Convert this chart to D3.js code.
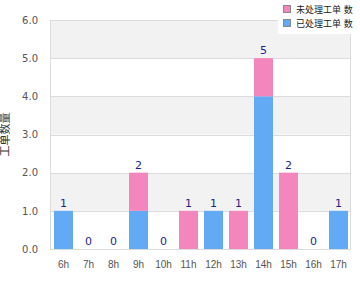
<!DOCTYPE html>
<html>
<head>
<meta charset="utf-8">
<script src="https://cdn.jsdelivr.net/npm/d3@7"></script>
<style>
  body { margin: 0; background: #fff; }
  svg { display: block; font-family: "DejaVu Sans", "Noto Sans CJK SC", sans-serif; }
</style>
</head>
<body>
<div id="chart"></div>
<script>
var hours = ["6h", "7h", "8h", "9h", "10h", "11h", "12h", "13h", "14h", "15h", "16h", "17h"];
var blueValues = [1, 0, 0, 1, 0, 0, 1, 0, 4, 0, 0, 1];
var pinkValues = [0, 0, 0, 1, 0, 1, 0, 1, 1, 2, 0, 0];
var seriesNames = ["已处理工单 数", "未处理工单 数"];
var yTicks = [0, 1, 2, 3, 4, 5, 6];
var yTitle = "工单数量";

var width = 360, height = 300;
var plotLeft = 51, plotRight = 351, plotTop = 20, plotBottom = 249;

var svg = d3.select("#chart").append("svg")
    .attr("width", width)
    .attr("height", height);

var x = d3.scaleBand().domain(hours).range([plotLeft, plotRight]).paddingInner(0.24).paddingOuter(0.12);
var y = d3.scaleLinear().domain([0, 6]).range([plotBottom, plotTop]);

// alternating bands
svg.selectAll(".band")
    .data(yTicks.slice(0, -1))
    .enter().append("rect")
    .attr("x", plotLeft)
    .attr("y", function(d) { return y(d + 1); })
    .attr("width", plotRight - plotLeft)
    .attr("height", function(d) { return y(d) - y(d + 1); })
    .attr("fill", function(d) { return d % 2 == 1 ? "#f2f2f2" : "#fff"; });

svg.selectAll(".grid")
    .data(yTicks)
    .enter().append("line")
    .attr("x1", plotLeft).attr("x2", plotRight)
    .attr("y1", function(d) { return Math.round(y(d)) + 0.5; })
    .attr("y2", function(d) { return Math.round(y(d)) + 0.5; })
    .attr("stroke", "#dcdcdc");

svg.append("line").attr("x1", plotLeft - 0.5).attr("x2", plotLeft - 0.5).attr("y1", plotTop).attr("y2", plotBottom + 1).attr("stroke", "#dcdcdc");
svg.append("line").attr("x1", plotRight - 0.5).attr("x2", plotRight - 0.5).attr("y1", plotTop).attr("y2", plotBottom + 1).attr("stroke", "#dcdcdc");

// stacked bars
var rows = hours.map(function(h, i) { return { hour: h, blue: blueValues[i], pink: pinkValues[i] }; });
var stack = d3.stack().keys(["blue", "pink"])(rows);
var colors = { blue: "#62aaf4", pink: "#f386bd" };

svg.selectAll(".layer")
    .data(stack)
    .enter().append("g")
    .attr("fill", function(d) { return colors[d.key]; })
    .selectAll("rect")
    .data(function(d) { return d; })
    .enter().append("rect")
    .attr("x", function(d) { return x(d.data.hour); })
    .attr("y", function(d) { return y(d[1]); })
    .attr("width", x.bandwidth())
    .attr("height", function(d) { return y(d[0]) - y(d[1]); });

// totals
svg.selectAll(".total")
    .data(rows)
    .enter().append("text")
    .attr("x", function(d) { return x(d.hour) + x.bandwidth() / 2; })
    .attr("y", function(d) { return y(d.blue + d.pink) - 4; })
    .attr("text-anchor", "middle")
    .attr("font-size", 11)
    .attr("fill", "#1f1f8f")
    .text(function(d) { return d.blue + d.pink; });

// axes
var yAxis = svg.append("g")
    .attr("transform", "translate(" + (plotLeft - 10) + ",0)")
    .call(d3.axisLeft(y).tickValues(yTicks).tickFormat(d3.format(".1f")).tickSize(0));
yAxis.select(".domain").remove();
yAxis.selectAll("text").attr("font-size", 10).attr("fill", "#555").attr("font-family", "DejaVu Sans");

var xAxis = svg.append("g")
    .attr("transform", "translate(0," + (plotBottom + 9) + ")")
    .call(d3.axisBottom(x).tickSize(0));
xAxis.select(".domain").remove();
xAxis.selectAll("text").attr("font-size", 10).attr("fill", "#555").attr("font-family", "Liberation Sans, Arial, sans-serif");

svg.append("text")
    .attr("transform", "translate(9," + ((plotTop + plotBottom) / 2) + ") rotate(-90)")
    .attr("text-anchor", "middle")
    .attr("font-size", 11)
    .attr("fill", "#333")
    .text(yTitle);

// legend
var legend = svg.append("g");
legend.append("rect").attr("x", 278).attr("y", 0).attr("width", 82).attr("height", 34).attr("fill", "#fff");
var legendItems = [
  { name: seriesNames[1], color: colors.pink },
  { name: seriesNames[0], color: colors.blue }
];
var li = legend.selectAll(".item")
    .data(legendItems)
    .enter().append("g")
    .attr("transform", function(d, i) { return "translate(283," + (5 + i * 14) + ")"; });
li.append("rect")
    .attr("x", 0.5).attr("y", 0.5).attr("width", 7).attr("height", 7)
    .attr("fill", function(d) { return d.color; })
    .attr("stroke", "#888");
li.append("text")
    .attr("x", 13).attr("y", 8)
    .attr("font-size", 9)
    .attr("fill", "#222")
    .text(function(d) { return d.name; });
</script>
</body>
</html>
